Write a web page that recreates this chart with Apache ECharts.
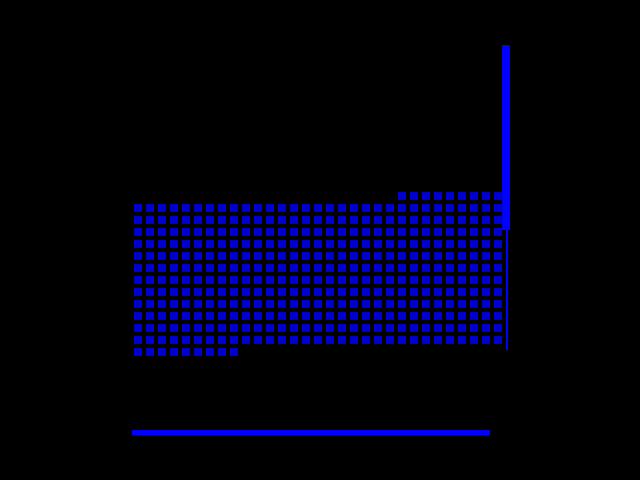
<!DOCTYPE html>
<html>
<head>
<meta charset="utf-8">
<script src="https://cdn.jsdelivr.net/npm/echarts@6/dist/echarts.min.js"></script>
<style>html,body{margin:0;padding:0;background:#000;}#c{width:640px;height:480px;}</style>
</head>
<body>
<div id="c"></div>
<script>
// 31 columns of unit squares: lowest and highest row of each column
const columns = Array.from({length: 31}, (_, i) => 'C' + (i + 1));
const colBottom = [8,8,8,8,8,8,8,8,8, 9,9,9,9,9,9,9,9,9,9,9,9,9, 9,9,9,9,9,9,9,9,9];
const colTop    = [20,20,20,20,20,20,20,20,20, 20,20,20,20,20,20,20,20,20,20,20,20,20, 21,21,21,21,21,21,21,21,21];
// right-hand spike (x position, thick part and thin part in value units)
const spikeX = 31.17;
const spikeThick = [18.17, 33.58];
const spikeThin = [8.17, 18.17];
// bottom bar (value level and extent)
const baseLevel = 1.29;
const baseRange = [0, 29.83];

const squares = [];
columns.forEach((c, i) => {
  for (let r = colBottom[i]; r <= colTop[i]; r++) squares.push([i + 0.5, r]);
});

const chart = echarts.init(document.getElementById('c'));
chart.setOption({
  backgroundColor: '#000000',
  animation: false,
  grid: {left: 132, top: 40, width: 378, height: 408},
  xAxis: {type: 'value', min: 0, max: 31.5, show: false},
  yAxis: {type: 'value', min: 0, max: 34, show: false},
  series: [
    {
      type: 'scatter', symbol: 'rect', symbolSize: 8,
      itemStyle: {color: '#0000ff'}, data: squares
    },
    {
      type: 'line', symbol: 'none',
      lineStyle: {color: '#0000ff', width: 8, cap: 'butt'},
      data: [[spikeX, spikeThick[0]], [spikeX, spikeThick[1]]]
    },
    {
      type: 'line', symbol: 'none',
      lineStyle: {color: '#0000ff', width: 2, cap: 'butt'},
      data: [[spikeX + 0.08, spikeThin[0]], [spikeX + 0.08, spikeThin[1]]]
    },
    {
      type: 'line', symbol: 'none',
      lineStyle: {color: '#0000ff', width: 5, cap: 'butt'},
      data: [[baseRange[0], baseLevel], [baseRange[1], baseLevel]]
    }
  ]
});
</script>
</body>
</html>
